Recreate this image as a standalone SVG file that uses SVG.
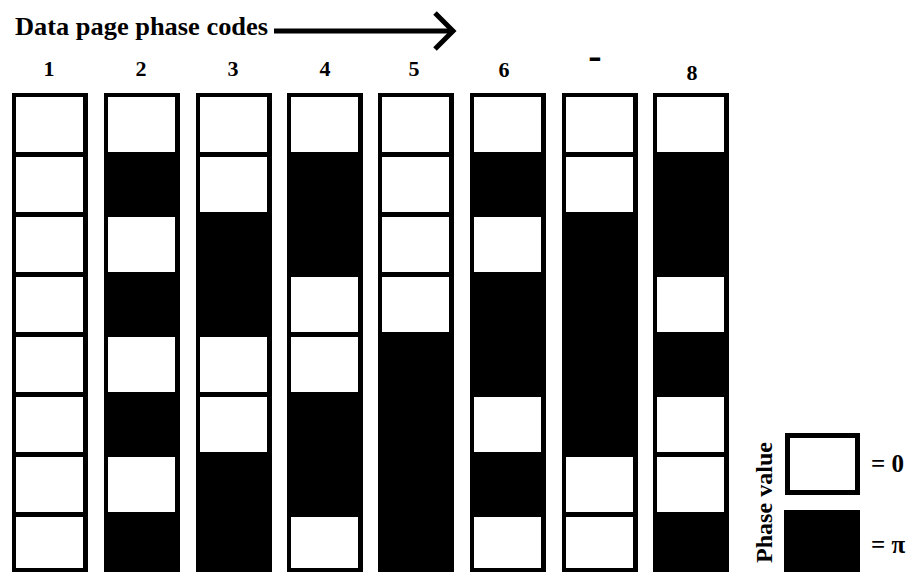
<svg xmlns="http://www.w3.org/2000/svg" width="910" height="572" viewBox="0 0 910 572">
<style>
text{font-family:"Liberation Serif","Times New Roman",serif;font-weight:bold;fill:#000}
.hd{font-size:22px;text-anchor:middle}
.col{fill:#000}
.w{fill:#fff}
.lg{font-size:25px}
</style>
<rect width="910" height="572" fill="#fff"/>
<text x="15" y="35" font-size="26" textLength="253" lengthAdjust="spacingAndGlyphs">Data page phase codes</text>
<g id="connectors" fill="none" stroke="#000" stroke-width="5">
<line x1="274" y1="31" x2="450" y2="31"/>
<polyline points="435,13 453,31 435,49" stroke-linejoin="miter"/>
</g>
<g id="headers">
<text class="hd" x="49" y="76">1</text>
<text class="hd" x="141" y="76">2</text>
<text class="hd" x="233" y="76">3</text>
<text class="hd" x="325" y="76">4</text>
<text class="hd" x="414" y="76">5</text>
<text class="hd" x="504" y="77">6</text>
<text class="hd" x="595" y="69" style="font-size:40px">-</text>
<text class="hd" x="692" y="80">8</text>
</g>
<g id="code1"><rect class="col" x="12" y="93" width="76" height="480"/>
<rect class="w" x="16" y="97" width="67" height="55"/><rect class="w" x="16" y="157" width="67" height="55"/><rect class="w" x="16" y="217" width="67" height="55"/><rect class="w" x="16" y="277" width="67" height="55"/><rect class="w" x="16" y="337" width="67" height="55"/><rect class="w" x="16" y="397" width="67" height="55"/><rect class="w" x="16" y="457" width="67" height="55"/><rect class="w" x="16" y="517" width="67" height="51"/></g>
<g id="code2"><rect class="col" x="104" y="93" width="76" height="480"/>
<rect class="w" x="108" y="97" width="67" height="55"/><rect class="w" x="108" y="217" width="67" height="55"/><rect class="w" x="108" y="337" width="67" height="55"/><rect class="w" x="108" y="457" width="67" height="55"/></g>
<g id="code3"><rect class="col" x="196" y="93" width="76" height="480"/>
<rect class="w" x="200" y="97" width="67" height="55"/><rect class="w" x="200" y="157" width="67" height="55"/><rect class="w" x="200" y="337" width="67" height="55"/><rect class="w" x="200" y="397" width="67" height="55"/></g>
<g id="code4"><rect class="col" x="287" y="93" width="76" height="480"/>
<rect class="w" x="291" y="97" width="67" height="55"/><rect class="w" x="291" y="277" width="67" height="55"/><rect class="w" x="291" y="337" width="67" height="55"/><rect class="w" x="291" y="517" width="67" height="51"/></g>
<g id="code5"><rect class="col" x="378" y="93" width="76" height="480"/>
<rect class="w" x="382" y="97" width="67" height="55"/><rect class="w" x="382" y="157" width="67" height="55"/><rect class="w" x="382" y="217" width="67" height="55"/><rect class="w" x="382" y="277" width="67" height="55"/></g>
<g id="code6"><rect class="col" x="470" y="93" width="76" height="480"/>
<rect class="w" x="474" y="97" width="67" height="55"/><rect class="w" x="474" y="217" width="67" height="55"/><rect class="w" x="474" y="397" width="67" height="55"/><rect class="w" x="474" y="517" width="67" height="51"/></g>
<g id="code7"><rect class="col" x="562" y="93" width="76" height="480"/>
<rect class="w" x="566" y="97" width="67" height="55"/><rect class="w" x="566" y="157" width="67" height="55"/><rect class="w" x="566" y="457" width="67" height="55"/><rect class="w" x="566" y="517" width="67" height="51"/></g>
<g id="code8"><rect class="col" x="653" y="93" width="76" height="480"/>
<rect class="w" x="657" y="97" width="67" height="55"/><rect class="w" x="657" y="277" width="67" height="55"/><rect class="w" x="657" y="397" width="67" height="55"/><rect class="w" x="657" y="457" width="67" height="55"/></g>
<g id="legend">
<text font-size="24" transform="translate(772,563) rotate(-90)" textLength="121" lengthAdjust="spacingAndGlyphs">Phase value</text>
<rect x="787.5" y="435.5" width="70" height="57" fill="#fff" stroke="#000" stroke-width="5"/>
<rect x="784" y="510" width="76" height="62" fill="#000"/>
<text class="lg" x="871" y="472">= 0</text>
<text class="lg" x="871" y="553">= π</text>
</g>
</svg>
